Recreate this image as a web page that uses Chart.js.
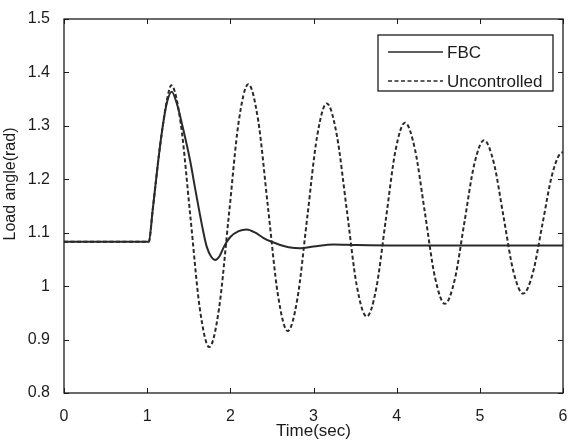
<!DOCTYPE html>
<html>
<head>
  <meta charset="utf-8">
  <script src="https://cdn.jsdelivr.net/npm/chart.js@4/dist/chart.umd.min.js"></script>
  <style>
    html, body { margin: 0; padding: 0; background: #ffffff; }
    #chart { display: block; }
  </style>
</head>
<body>
  <canvas id="chart" width="569" height="442"></canvas>
  <script>
    // ─── Data ───────────────────────────────────────────────────────────────
    const xTicks = [0, 1, 2, 3, 4, 5, 6];
    const yTicks = [0.8, 0.9, 1, 1.1, 1.2, 1.3, 1.4, 1.5];

    const fbcTime = [0, 1.02, 1.066, 1.134, 1.186, 1.24, 1.295, 1.36, 1.427, 1.515, 1.587,
      1.663, 1.716, 1.77, 1.816, 1.87, 1.924, 2.0, 2.1, 2.196, 2.3, 2.4, 2.497, 2.6, 2.7,
      2.84, 3.0, 3.24, 3.5, 4.0, 6.0];
    const fbcAngle = [1.083, 1.083, 1.142, 1.236, 1.298, 1.345, 1.364, 1.34, 1.298, 1.236, 1.174,
      1.111, 1.074, 1.055, 1.049, 1.056, 1.074, 1.092, 1.103, 1.106, 1.100, 1.090, 1.083, 1.077, 1.073,
      1.071, 1.074, 1.078, 1.077, 1.076, 1.076];

    const uncTime = [0, 1.02, 1.066, 1.134, 1.186, 1.24, 1.29, 1.404, 1.519, 1.633, 1.747,
      1.864, 1.982, 2.099, 2.216, 2.335, 2.453, 2.572, 2.69, 2.808, 2.925, 3.043, 3.16,
      3.28, 3.40, 3.52, 3.64, 3.755, 3.87, 3.985, 4.10, 4.22, 4.34, 4.46, 4.58,
      4.698, 4.815, 4.933, 5.05, 5.168, 5.285, 5.403, 5.52, 5.638, 5.755, 5.873, 5.99, 6.0];
    const uncAngle = [1.083, 1.083, 1.142, 1.236, 1.298, 1.35, 1.376, 1.304, 1.131, 0.958, 0.886,
      0.958, 1.132, 1.306, 1.378, 1.310, 1.147, 0.984, 0.916, 0.978, 1.129, 1.280, 1.342,
      1.283, 1.143, 1.001, 0.943, 0.996, 1.125, 1.253, 1.306, 1.256, 1.137, 1.017, 0.967,
      1.012, 1.120, 1.228, 1.273, 1.231, 1.130, 1.028, 0.986, 1.025, 1.118, 1.211, 1.250, 1.250];

    const seriesNames = ['FBC', 'Uncontrolled'];
    const yTitle = 'Load angle(rad)';

    const INK = '#1c1c1c';
    const FONT = 'Liberation Sans, Arial, sans-serif';

    const zip = (xs, ys) => xs.map((x, i) => ({ x, y: ys[i] }));

    // ─── Frame, inward ticks, y title and in-plot legend ────────────────────
    const framePlugin = {
      id: 'frame',
      afterDraw(chart) {
        const { ctx, chartArea: a, scales } = chart;
        const tl = 5;
        ctx.save();
        ctx.strokeStyle = INK;
        ctx.lineWidth = 1.3;
        ctx.strokeRect(a.left, a.top, a.right - a.left, a.bottom - a.top);
        ctx.lineWidth = 1;
        ctx.beginPath();
        xTicks.forEach(v => {
          const px = Math.round(scales.x.getPixelForValue(v)) + 0.5;
          ctx.moveTo(px, a.bottom); ctx.lineTo(px, a.bottom - tl);
          ctx.moveTo(px, a.top); ctx.lineTo(px, a.top + tl);
        });
        yTicks.forEach(v => {
          const py = Math.round(scales.y.getPixelForValue(v)) + 0.5;
          ctx.moveTo(a.left, py); ctx.lineTo(a.left + tl, py);
          ctx.moveTo(a.right, py); ctx.lineTo(a.right - tl, py);
        });
        ctx.stroke();

        // y axis title (sits above the plot's middle in the source figure)
        ctx.save();
        ctx.translate(11, 184);
        ctx.rotate(-Math.PI / 2);
        ctx.font = '16px ' + FONT;
        ctx.fillStyle = INK;
        ctx.textAlign = 'center';
        ctx.textBaseline = 'middle';
        ctx.fillText(yTitle, 0, 0);
        ctx.restore();

        // legend box
        const bx = 378, by = 35, bw = 175, bh = 56;
        ctx.fillStyle = '#ffffff';
        ctx.fillRect(bx, by, bw, bh);
        ctx.lineWidth = 1.3;
        ctx.strokeRect(bx, by, bw, bh);
        ctx.font = '17px ' + FONT;
        ctx.textBaseline = 'middle';
        ctx.fillStyle = INK;
        const rows = [52, 81];
        chart.data.datasets.forEach((ds, i) => {
          ctx.beginPath();
          ctx.lineWidth = 1.5;
          ctx.strokeStyle = ds.borderColor;
          ctx.setLineDash(ds.borderDash || []);
          ctx.moveTo(388, rows[i]);
          ctx.lineTo(443, rows[i]);
          ctx.stroke();
          ctx.setLineDash([]);
          ctx.fillText(ds.label, 447, rows[i] + 1);
        });
        ctx.restore();
      },
    };

    const config = {
      type: 'line',
      data: {
        datasets: [
          {
            label: seriesNames[0],
            data: zip(fbcTime, fbcAngle),
            borderColor: '#2a2a2a',
            borderWidth: 2,
            pointRadius: 0,
            cubicInterpolationMode: 'monotone',
          },
          {
            label: seriesNames[1],
            data: zip(uncTime, uncAngle),
            borderColor: '#2a2a2a',
            borderWidth: 2,
            borderDash: [4, 2.5],
            pointRadius: 0,
            cubicInterpolationMode: 'monotone',
          },
        ],
      },
      options: {
        animation: false,
        responsive: false,
        layout: { padding: { top: 19, right: 6, left: 0, bottom: 0 } },
        plugins: {
          legend: { display: false },
          tooltip: { enabled: false },
        },
        scales: {
          x: {
            type: 'linear',
            min: 0,
            max: 6,
            grid: { display: false },
            border: { display: false },
            afterFit: s => { s.height = 49; s.paddingLeft = 0; s.paddingRight = 0; },
            afterBuildTicks: s => { s.ticks = xTicks.map(v => ({ value: v })); },
            ticks: { color: INK, font: { family: FONT, size: 16 }, padding: 6, maxRotation: 0 },
            title: {
              display: true,
              text: 'Time(sec)',
              color: INK,
              font: { family: FONT, size: 17 },
              padding: { top: 0, bottom: 0 },
            },
          },
          y: {
            min: 0.8,
            max: 1.5,
            grid: { display: false },
            border: { display: false },
            afterFit: s => { s.width = 64; s.paddingTop = 0; s.paddingBottom = 0; },
            afterBuildTicks: s => { s.ticks = yTicks.map(v => ({ value: v })); },
            ticks: {
              color: INK,
              font: { family: FONT, size: 16 },
              padding: 6,
              callback: v => String(Math.round(v * 10) / 10),
            },
          },
        },
      },
      plugins: [framePlugin],
    };

    new Chart(document.getElementById('chart').getContext('2d'), config);
  </script>
</body>
</html>
